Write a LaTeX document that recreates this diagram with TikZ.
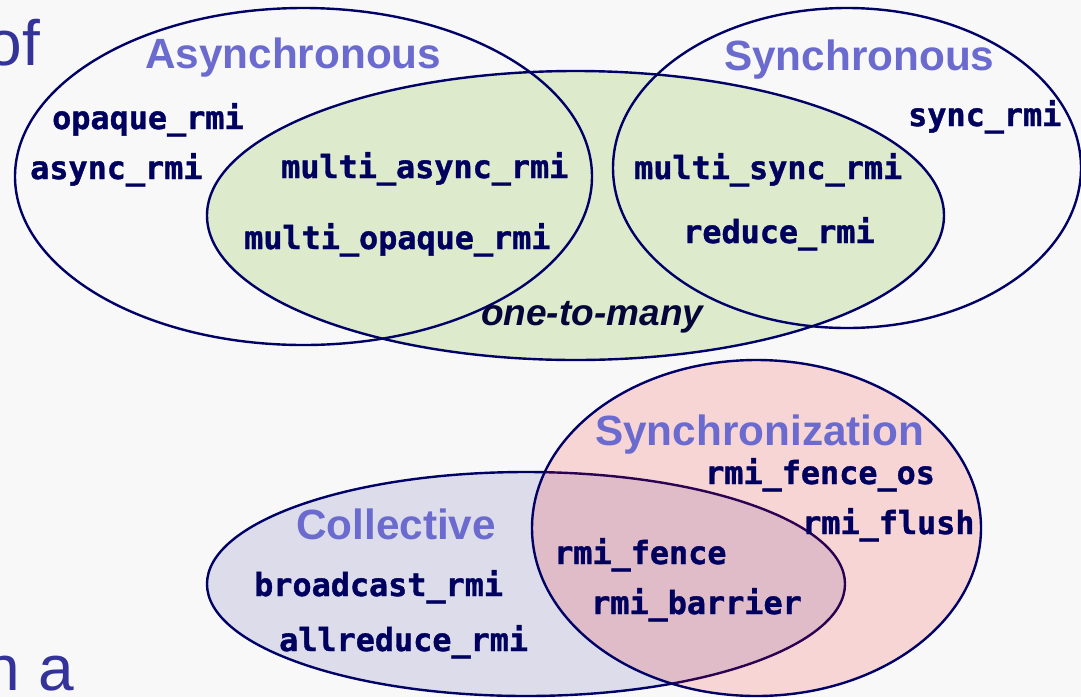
\documentclass[tikz,border=0pt]{standalone}
\usepackage{fontspec}
\setmainfont{Liberation Sans}
\setmonofont{DejaVu Sans Mono}[BoldFeatures={FakeBold=1.2}]

\definecolor{pagebg}{HTML}{F8F8F8}
\definecolor{setnavy}{HTML}{000066}
\definecolor{fnnavy}{HTML}{00005E}
\definecolor{headblue}{HTML}{6B6BCF}
\definecolor{slideblue}{HTML}{333399}
\definecolor{manygreen}{HTML}{DDEACB}
\definecolor{syncpink}{HTML}{F7D5D5}
\definecolor{collgray}{HTML}{DCDCEB}
\definecolor{bothmauve}{HTML}{DFBCC8}
\definecolor{bothline}{HTML}{2A0050}
\definecolor{manytext}{HTML}{05053A}

\tikzset{
  setline/.style={draw=setnavy, line width=2.4pt},
  fnname/.style={anchor=base west, inner sep=0pt, text=fnnavy,
    font=\ttfamily\bfseries\fontsize{31.8}{36}\selectfont},
  sethead/.style={anchor=base west, inner sep=0pt, text=headblue,
    font=\bfseries\fontsize{42.3}{48}\selectfont},
  slidetxt/.style={anchor=base east, inner sep=0pt, text=slideblue,
    font=\fontsize{64}{70}\selectfont},
}

\begin{document}
\begin{tikzpicture}[x=1pt,y=-1pt]
\clip (0,0) rectangle (1081,697);
\fill[pagebg] (0,0) rectangle (1081,697);

% slide text behind the diagram
\node[slidetxt] (of) at (40,65) {of};
\node[slidetxt] (na) at (74,690) {n a};

% upper sets
\fill[manygreen] (575.5,215.5) ellipse [x radius=368.5pt, y radius=144.5pt];
\draw[setline] (303.5,176.5) ellipse [x radius=288.5pt, y radius=168.5pt];
\draw[setline] (847,168) ellipse [x radius=234pt, y radius=160pt];
\draw[setline] (575.5,215.5) ellipse [x radius=368.5pt, y radius=144.5pt];

% lower sets
\fill[collgray] (526,584) ellipse [x radius=319pt, y radius=112pt];
\draw[setline] (526,584) ellipse [x radius=319pt, y radius=112pt];
\fill[syncpink] (756.5,528) ellipse [x radius=224.5pt, y radius=168pt];
\begin{scope}
  \clip (756.5,528) ellipse [x radius=224.5pt, y radius=168pt];
  \fill[bothmauve] (526,584) ellipse [x radius=319pt, y radius=112pt];
  \draw[setline, draw=bothline] (526,584) ellipse [x radius=319pt, y radius=112pt];
\end{scope}
\draw[setline] (756.5,528) ellipse [x radius=224.5pt, y radius=168pt];

% headings
\node[sethead] (async) at (145,68) {Asynchronous};
\node[sethead] (sync) at (724,70) {Synchronous};
\node[sethead] (synczn) at (595,445) {Synchronization};
\node[sethead] (coll) at (296,539) {Collective};
\node[anchor=base west, inner sep=0pt, text=manytext,
  font=\bfseries\itshape\fontsize{37}{42}\selectfont] (many) at (481,325) {one-to-many};

% primitives
\node[fnname] (opaque) at (52,129) {opaque\_rmi};
\node[fnname] (asyncrmi) at (30,179) {async\_rmi};
\node[fnname] (masync) at (281,178) {multi\_async\_rmi};
\node[fnname] (mopaque) at (244,249) {multi\_opaque\_rmi};
\node[fnname] (msync) at (634,179) {multi\_sync\_rmi};
\node[fnname] (reduce) at (683,243) {reduce\_rmi};
\node[fnname] (syncrmi) at (908,126) {sync\_rmi};
\node[fnname] (fenceos) at (705,484) {rmi\_fence\_os};
\node[fnname] (flush) at (802,534) {rmi\_flush};
\node[fnname] (fence) at (554,564) {rmi\_fence};
\node[fnname] (barrier) at (591,614) {rmi\_barrier};
\node[fnname] (bcast) at (254,596) {broadcast\_rmi};
\node[fnname] (allred) at (279,651) {allreduce\_rmi};
\end{tikzpicture}
\end{document}
